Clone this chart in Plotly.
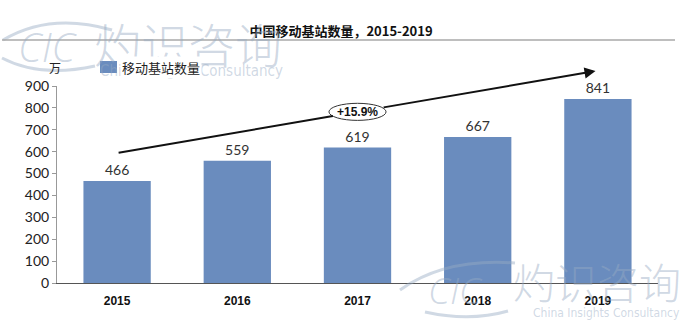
import plotly.graph_objects as go

# ---- data ----
years = ["2015", "2016", "2017", "2018", "2019"]
stations = [466, 559, 619, 667, 841]
series_name = "移动基站数量"
title_text = "中国移动基站数量，2015-2019"
unit_label = "万"
cagr_label = "+15.9%"
y_ticks = [0, 100, 200, 300, 400, 500, 600, 700, 800, 900]

# ---- layout geometry (pixels) ----
W, H = 682, 330
ML, MR, MT, MB = 57, 24, 86, 47
PW, PH = W - ML - MR, H - MT - MB


def px(x):
    """pixel x -> paper x"""
    return (x - ML) / PW


def py(y):
    """pixel y -> paper y"""
    return (H - MB - y) / PH


BAR = "#6a8cbe"
WM = "rgba(150,170,195,0.45)"
NARROW = "Liberation Sans Narrow, DejaVu Sans Condensed, Roboto Condensed, Roboto, sans-serif"

fig = go.Figure()
fig.add_trace(go.Bar(
    x=years, y=stations, name=series_name, showlegend=False,
    marker=dict(color=BAR, line=dict(width=0)),
    text=[str(v) for v in stations], textposition="outside",
    textfont=dict(family="Lato, Open Sans, sans-serif", size=14, color="#333"),
    cliponaxis=False,
))

# ---- growth arrow with the CAGR ellipse (data coordinates) ----
arrow_x0, arrow_y0 = 0.0, 594.0
arrow_x1, arrow_y1 = 3.98, 968.0
ell_cx = 2.0
ell_hw, ell_hh = 0.2375, 39.0
slope = (arrow_y1 - arrow_y0) / (arrow_x1 - arrow_x0)
ell_cy = arrow_y0 + slope * (ell_cx - arrow_x0)
gap = 0.205  # where the arrow meets the ellipse outline

fig.add_shape(type="circle", xref="x", yref="y",
              x0=ell_cx - ell_hw, x1=ell_cx + ell_hw,
              y0=ell_cy - ell_hh, y1=ell_cy + ell_hh,
              line=dict(color="#333", width=1), fillcolor="white", layer="above")


def wm(x, y, text, size, family, weight=400, anchor="center"):
    return dict(x=px(x), y=py(y), xref="paper", yref="paper", xanchor=anchor,
                yanchor="middle", text=text, showarrow=False,
                font=dict(family=family, size=size, color=WM, weight=weight))


ann = []
# ---- watermarks (drawn first, so the chart text sits over them) ----
ann.append(wm(48, 47, "<i>CIC</i>", 40, "Open Sans", 300))
ann.append(wm(188, 42, "灼识咨询", 47, "Noto Sans CJK SC", 300))
ann.append(wm(285, 71, "China Insights Consultancy", 15, NARROW, anchor="right"))
ann.append(wm(455, 289, "<i>CIC</i>", 37, "Open Sans", 300))
ann.append(wm(597, 280, "灼识咨询", 42, "Noto Sans CJK SC", 300))
ann.append(wm(682, 313, "China Insights Consultancy", 12, NARROW, anchor="right"))

# ---- series key: swatch + name on a white plate ----
ann.append(dict(x=px(120), y=py(67), xref="paper", yref="paper", xanchor="left",
                yanchor="middle", text=series_name, showarrow=False, bgcolor="white",
                borderpad=1,
                font=dict(family="Noto Sans CJK SC", size=13, color="#222")))

ann.append(dict(x=ell_cx - gap, y=arrow_y0 + slope * (ell_cx - gap - arrow_x0),
                ax=arrow_x0, ay=arrow_y0, xref="x", yref="y", axref="x", ayref="y",
                text="", showarrow=True, arrowhead=0, arrowwidth=2, arrowcolor="#111"))
ann.append(dict(x=arrow_x1, y=arrow_y1,
                ax=ell_cx + gap, ay=arrow_y0 + slope * (ell_cx + gap - arrow_x0),
                xref="x", yref="y", axref="x", ayref="y",
                text="", showarrow=True, arrowhead=2, arrowsize=1.1, arrowwidth=2,
                arrowcolor="#111"))
ann.append(dict(x=ell_cx, y=ell_cy, xref="x", yref="y", text="<b>" + cagr_label + "</b>",
                showarrow=False, font=dict(family="Liberation Sans, Arial", size=12, color="#111")))

# ---- unit label ----
ann.append(dict(x=px(55), y=py(68), xref="paper", yref="paper", xanchor="center",
                yanchor="middle", text=unit_label, showarrow=False,
                font=dict(family="Noto Sans CJK SC", size=12, color="#222")))

shapes = list(fig.layout.shapes)
# logo swooshes
for path in [
    f"M {px(3)},{py(40)} Q {px(50)},{py(12)} {px(112)},{py(30)}",
    f"M {px(2)},{py(58)} Q {px(40)},{py(78)} {px(95)},{py(66)}",
    f"M {px(400)},{py(290)} Q {px(445)},{py(258)} {px(515)},{py(263)}",
    f"M {px(425)},{py(312)} Q {px(470)},{py(322)} {px(508)},{py(311)}",
]:
    shapes.append(dict(type="path", xref="paper", yref="paper", path=path,
                       line=dict(color=WM, width=3), layer="above"))
# series key swatch
shapes.append(dict(type="rect", xref="paper", yref="paper",
                   x0=px(100), x1=px(117), y0=py(61), y1=py(73),
                   fillcolor=BAR, line=dict(width=0), layer="above"))
# rule under the title
shapes.append(dict(type="line", xref="paper", yref="paper",
                   x0=px(2), x1=px(675), y0=py(40), y1=py(40),
                   line=dict(color="#a8a8a8", width=1.5)))

fig.update_layout(
    width=W, height=H,
    margin=dict(l=ML, r=MR, t=MT, b=MB, pad=0),
    paper_bgcolor="white", plot_bgcolor="white",
    bargap=0.44,
    title=dict(text="<b>" + title_text + "</b>", x=0.5, xanchor="center",
               y=1 - 31 / H, yanchor="middle",
               font=dict(family="Noto Sans CJK SC, Liberation Sans", size=13, color="#111")),
    showlegend=False,
    xaxis=dict(type="category", showline=True, linecolor="#555", linewidth=1.2,
               ticks="", showgrid=False, ticklabelstandoff=6,
               tickfont=dict(family="Liberation Sans, Arial", size=12, color="#111", weight="bold")),
    yaxis=dict(range=[0, 900], tickvals=y_ticks, showline=True, linecolor="#999", linewidth=1,
               ticks="outside", ticklen=4, tickcolor="#999", showgrid=False, zeroline=False,
               tickfont=dict(family="Lato, Open Sans, sans-serif", size=14, color="#222")),
    annotations=ann,
    shapes=shapes,
)

fig.write_html("out.html")
